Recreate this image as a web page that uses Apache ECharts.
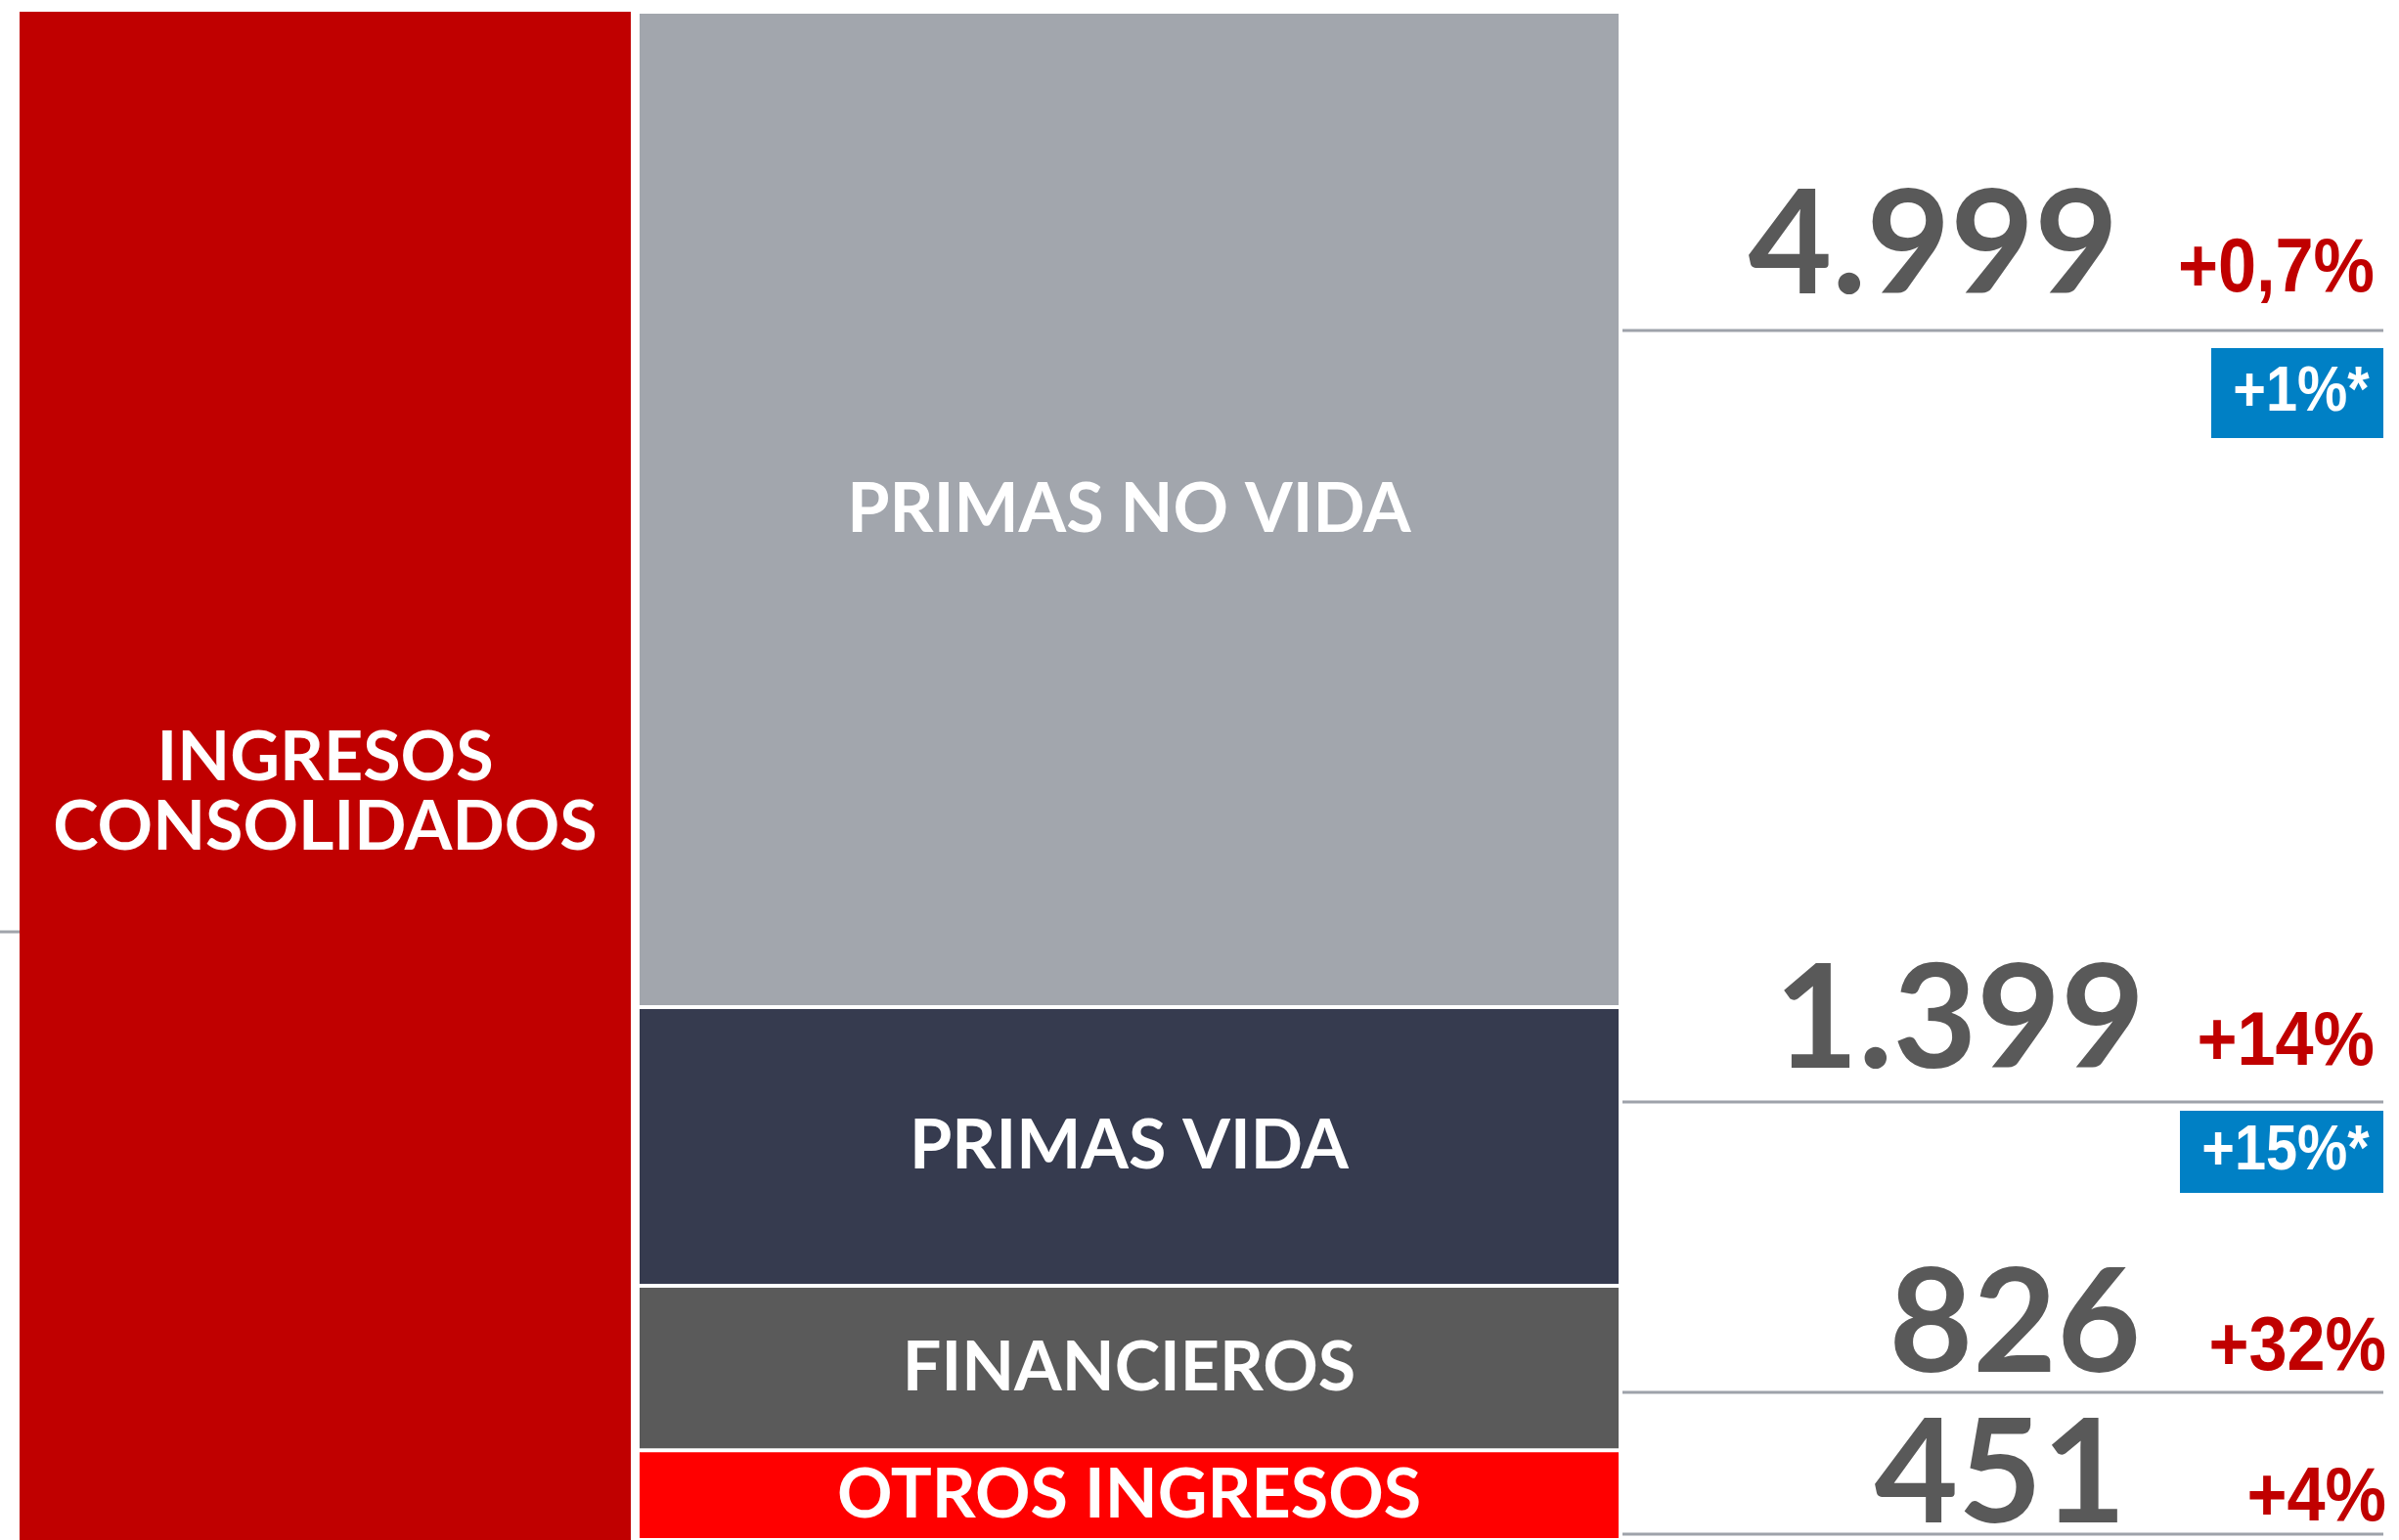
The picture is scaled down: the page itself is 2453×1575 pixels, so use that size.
<!DOCTYPE html>
<html lang="es">
<head>
<meta charset="utf-8">
<title>Ingresos consolidados</title>
<script src="https://cdn.jsdelivr.net/npm/echarts@6/dist/echarts.min.js"></script>
<style>
  html, body { margin: 0; padding: 0; background: #fff; }
  #chart { width: 2453px; height: 1575px; }
</style>
</head>
<body>
<div id="chart"></div>
<script>
// datos
const totalName = 'INGRESOS\nCONSOLIDADOS'
const categories = ['PRIMAS NO VIDA', 'PRIMAS VIDA', 'FINANCIEROS', 'OTROS INGRESOS']
const values = [4999, 1399, 826, 451]
const valueLabels = ['4.999', '1.399', '826', '451']
const growthLabels = ['+0,7%', '+14%', '+32%', '+4%']
const adjustedLabels = ['+1%*', '+15%*', '', '']

const colors = ['#A2A6AD', '#363B4F', '#5A5A5A', '#FF0000']
const total = values.reduce((a, b) => a + b, 0)

// maquetacion de las anotaciones de la derecha
const rowLayout = [
  { numRight: 2166, numY: 252, pctRight: 2428, pctY: 276, lineY: 338, box: [2261, 356, 176, 92] },
  { numRight: 2193, numY: 1044, pctRight: 2428, pctY: 1067, lineY: 1127, box: [2229, 1136, 208, 84] },
  { numRight: 2189, numY: 1355, pctRight: 2440, pctY: 1379, lineY: 1424, box: null },
  { numRight: 2174, numY: 1509, pctRight: 2440, pctY: 1533, lineY: 1569, box: null },
]

const sans = '"Liberation Sans", Arial, sans-serif'
const labelFont = 'Lato, "Open Sans", sans-serif'
const narrowX = 0.9

const chart = echarts.init(document.getElementById('chart'))

const yAxisBase = { type: 'value', inverse: true, min: 0, max: total, show: false }
const xAxisBase = { type: 'category', show: false, boundaryGap: true }

const segLabel = {
  show: true,
  position: 'inside',
  color: '#fff',
  fontFamily: labelFont,
  fontWeight: 'bold',
  fontSize: 70,
}

function buildGraphics() {
  const g = []
  // marca suelta a la izquierda
  g.push({ type: 'line', shape: { x1: 0, y1: 953, x2: 20, y2: 953 }, style: { stroke: '#A0A4AB', lineWidth: 3 } })
  rowLayout.forEach((r, i) => {
    g.push({ type: 'line', shape: { x1: 1659, y1: r.lineY, x2: 2437, y2: r.lineY }, style: { stroke: '#9EA2AA', lineWidth: 3 } })
    g.push({
      type: 'text', x: r.numRight, y: r.numY,
      style: { text: valueLabels[i], align: 'right', verticalAlign: 'middle', fill: '#595959', font: `bold 148px ${labelFont}` },
    })
    g.push({
      type: 'text', x: r.pctRight, y: r.pctY, scaleX: narrowX,
      style: { text: growthLabels[i], align: 'right', verticalAlign: 'middle', fill: '#C00000', font: `bold 78px ${sans}` },
    })
    if (r.box && adjustedLabels[i]) {
      const [bx, by, bw, bh] = r.box
      g.push({ type: 'rect', shape: { x: bx, y: by, width: bw, height: bh }, style: { fill: '#0080C5' } })
      g.push({
        type: 'text', x: bx + bw / 2 + 4, y: by + bh / 2, scaleX: narrowX,
        style: { text: adjustedLabels[i], align: 'center', verticalAlign: 'middle', fill: '#fff', font: `bold 64px ${sans}` },
      })
    }
  })
  return g
}

chart.setOption({
  animation: false,
  backgroundColor: '#fff',
  grid: [
    { left: 20, width: 625, top: 12, bottom: -27 },
    { left: 652, width: 1005, top: 12, bottom: -27 },
  ],
  xAxis: [
    { ...xAxisBase, gridIndex: 0, data: ['total'] },
    { ...xAxisBase, gridIndex: 1, data: ['desglose'] },
  ],
  yAxis: [
    { ...yAxisBase, gridIndex: 0 },
    { ...yAxisBase, gridIndex: 1 },
  ],
  series: [
    {
      type: 'bar',
      xAxisIndex: 0,
      yAxisIndex: 0,
      barWidth: '100%',
      data: [total],
      itemStyle: { color: '#C00000' },
      label: { ...segLabel, formatter: totalName, lineHeight: 71, offset: [0, 17] },
    },
    ...categories.map((name, i) => ({
      type: 'bar',
      name,
      stack: 'ingresos',
      xAxisIndex: 1,
      yAxisIndex: 1,
      barWidth: '100%',
      data: [values[i]],
      itemStyle: { color: colors[i], borderColor: '#fff', borderWidth: 2 },
      label: { ...segLabel, formatter: name },
    })),
  ],
  graphic: buildGraphics(),
})

window.addEventListener('resize', () => chart.resize())
</script>
</body>
</html>
